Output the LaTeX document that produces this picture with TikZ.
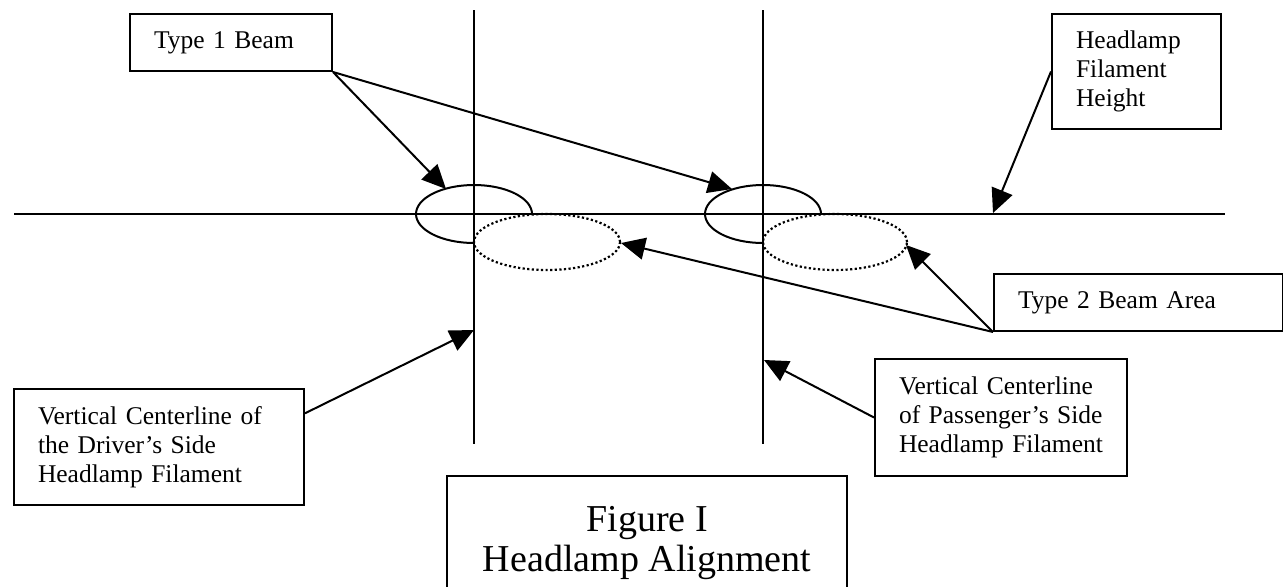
\documentclass[tikz,border=0pt]{standalone}
\usepackage{fontspec}
\setmainfont{Liberation Serif}
\usetikzlibrary{arrows.meta}

\newcommand{\calloutfont}{\fontsize{12.75}{14.5}\selectfont}
\newcommand{\titlefont}{\fontsize{19}{20}\selectfont}

\tikzstyle{callout}=[draw, line width=1pt, anchor=north west, align=left, inner xsep=12pt, font=\calloutfont]
\tikzstyle{titlebox}=[draw, line width=1pt, anchor=north, align=center, font=\titlefont]
\tikzstyle{pointer}=[-{Triangle[length=12pt,width=11pt]}, line width=1pt]
\tikzstyle{axis}=[line width=1pt]
\tikzstyle{beam}=[line width=1pt]
\tikzstyle{beamtwo}=[line width=1.1pt, dash pattern=on 1.1pt off 1.2pt]

\begin{document}
\begin{tikzpicture}[x=0.5pt, y=0.5pt]
  \clip (0,0) rectangle (1283,586);

  %% Axes
  \draw[axis] (14,372) -- (1225,372);
  \draw[axis] (474,576) -- (474,142);
  \draw[axis] (763,576) -- (763,142);

  %% Type 1 beams (solid, open in the lower right)
  \draw[beam] (532,372) arc[start angle=0, end angle=270, x radius=29pt, y radius=14.5pt];
  \draw[beam] (821,372) arc[start angle=0, end angle=270, x radius=29pt, y radius=14.5pt];

  %% Type 2 beam areas (dotted)
  \draw[beamtwo] (547,344) ellipse[x radius=36.5pt, y radius=14pt];
  \draw[beamtwo] (835,344) ellipse[x radius=36pt, y radius=14pt];

  %% Labels
  \draw (129,573) node[callout, text width=77pt, minimum height=28.5pt] (type1) {Type 1 Beam};
  \draw (1051,573) node[callout, text width=60.5pt, minimum height=57.5pt] (height) {Headlamp\\Filament\\Height};
  \draw (993,313) node[callout, text width=120.5pt, minimum height=28.5pt] (type2) {Type 2 Beam Area};
  \draw (13,198) node[callout, text width=121pt, minimum height=58pt] (driver) {Vertical Centerline of\\the Driver’s Side\\Headlamp Filament};
  \draw (874,228) node[callout, text width=102pt, minimum height=58.5pt] (passenger) {Vertical Centerline\\of Passenger’s Side\\Headlamp Filament};
  \draw (647,111) node[titlebox, minimum width=200pt, minimum height=67pt] (title) {Figure I\\Headlamp Alignment};

  %% Arrow ends
  \coordinate (t1a) at (446,397);
  \coordinate (t1b) at (732,397);
  \coordinate (fh) at (993,373);
  \coordinate (t2a) at (621,343);
  \coordinate (t2b) at (906,341);
  \coordinate (vd) at (474,256);
  \coordinate (vp) at (764,226);

  \draw[pointer] (type1.south east) -- (t1a);
  \draw[pointer] (type1.south east) -- (t1b);
  \draw[pointer] (height.west) -- (fh);
  \draw[pointer] (type2.south west) -- (t2a);
  \draw[pointer] (type2.south west) -- (t2b);
  \draw[pointer] (driver.13) -- (vd);
  \draw[pointer] (passenger.west) -- (vp);
\end{tikzpicture}
\end{document}
